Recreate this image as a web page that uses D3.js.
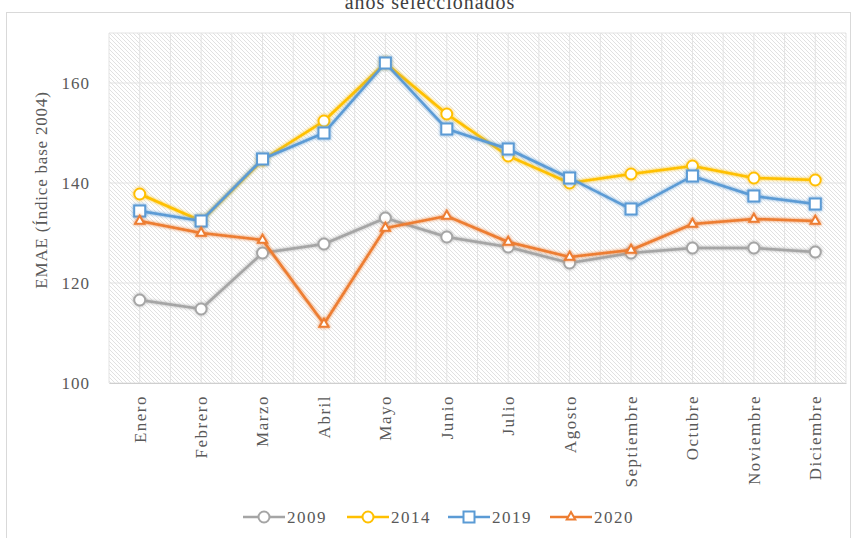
<!DOCTYPE html>
<html>
<head>
<meta charset="utf-8">
<script src="https://cdn.jsdelivr.net/npm/d3@7"></script>
<style>
  body { margin: 0; background: #fff; }
  text { font-family: "Liberation Serif", "DejaVu Serif", serif; fill: #595959; }
</style>
</head>
<body>
<svg id="chart" width="858" height="538"></svg>
<script>
// months (categories)
var months = ["Enero", "Febrero", "Marzo", "Abril", "Mayo", "Junio", "Julio",
  "Agosto", "Septiembre", "Octubre", "Noviembre", "Diciembre"];

// EMAE values
var v2009 = [116.6, 114.8, 126.0, 127.8, 133.0, 129.2, 127.2, 124.0, 126.0, 127.0, 127.0, 126.2];
var v2014 = [137.8, 132.4, 144.6, 152.4, 164.0, 153.8, 145.4, 140.0, 141.8, 143.4, 141.0, 140.6];
var v2019 = [134.4, 132.4, 144.8, 150.0, 164.0, 150.8, 146.8, 141.0, 134.8, 141.4, 137.4, 135.8];
var v2020 = [132.4, 130.0, 128.6, 111.8, 131.0, 133.4, 128.2, 125.2, 126.6, 131.8, 132.8, 132.4];

var yTicks = [100, 120, 140, 160];

var series = [
  {name: "2009", values: v2009, color: "#A5A5A5", marker: "circle"},
  {name: "2014", values: v2014, color: "#FFC000", marker: "circle"},
  {name: "2019", values: v2019, color: "#5B9BD5", marker: "square"},
  {name: "2020", values: v2020, color: "#ED7D31", marker: "triangle"}
];

var margin = {top: 33, right: 12, bottom: 155, left: 109},
    width = 858 - margin.left - margin.right,
    height = 538 - margin.top - margin.bottom;

var svg = d3.select("#chart");

// outer chart frame
svg.append("rect")
    .attr("x", 6.5).attr("y", 12.5)
    .attr("width", 844).attr("height", 540)
    .attr("fill", "#fff")
    .attr("stroke", "#d9d9d9");

// title (cut off at the top in the original too)
svg.append("text")
    .attr("x", 430).attr("y", 9)
    .attr("text-anchor", "middle")
    .style("font-size", "20px")
    .style("letter-spacing", "1px")
    .style("fill", "#404040")
    .text("años seleccionados");

// hatch pattern for the plot area
var defs = svg.append("defs");
var pat = defs.append("pattern")
    .attr("id", "hatch")
    .attr("patternUnits", "userSpaceOnUse")
    .attr("width", 4).attr("height", 4);
pat.append("rect").attr("width", 4).attr("height", 4).attr("fill", "#fff");
pat.append("path")
    .attr("d", "M-1,-1 L5,5 M-1,3 L1,5 M3,-1 L5,1")
    .attr("stroke", "#dedede")
    .attr("stroke-width", 0.9);

var glow = defs.append("filter").attr("id", "glow")
    .attr("x", "-20%").attr("y", "-20%").attr("width", "140%").attr("height", "140%");
glow.append("feGaussianBlur").attr("in", "SourceGraphic").attr("stdDeviation", 1.6).attr("result", "b");
var fm = glow.append("feMerge");
fm.append("feMergeNode").attr("in", "b");
fm.append("feMergeNode").attr("in", "SourceGraphic");

var g = svg.append("g")
    .attr("transform", "translate(" + margin.left + "," + margin.top + ")");

var x = d3.scaleBand().domain(months).range([0, width]);
var xc = function(m) { return x(m) + x.bandwidth() / 2; };
var y = d3.scaleLinear().domain([100, 170]).range([height, 0]);

g.append("rect")
    .attr("width", width).attr("height", height)
    .attr("fill", "url(#hatch)");

// vertical grid at band edges and centres
var vLines = [];
months.forEach(function(m) { vLines.push(x(m)); vLines.push(xc(m)); });
vLines.push(width);
g.append("g").selectAll("line")
    .data(vLines)
    .join("line")
    .attr("x1", function(d) { return d; }).attr("x2", function(d) { return d; })
    .attr("y1", 0).attr("y2", height)
    .attr("stroke", "#e3e3e3").attr("stroke-width", 1);

// horizontal grid
g.append("g").selectAll("line")
    .data(yTicks.concat([170]))
    .join("line")
    .attr("x1", 0).attr("x2", width)
    .attr("y1", function(d) { return y(d); }).attr("y2", function(d) { return y(d); })
    .attr("stroke", "#e3e3e3").attr("stroke-width", 1);

// Y axis
var yAxis = g.append("g")
    .call(d3.axisLeft(y).tickValues(yTicks).tickSize(0).tickPadding(19));
yAxis.select(".domain").remove();
yAxis.selectAll("text").style("font-size", "17px").style("fill", "#595959")
    .style("letter-spacing", "1px")
    .style("font-family", "Liberation Serif, serif");

// X axis
var xAxis = g.append("g")
    .attr("transform", "translate(0," + height + ")")
    .call(d3.axisBottom(x).tickSize(0).tickPadding(0));
xAxis.select(".domain").attr("stroke", "#cfcfcf");
xAxis.selectAll("text")
    .attr("transform", "rotate(-90)")
    .attr("x", -12).attr("y", 0).attr("dy", "0.35em")
    .style("text-anchor", "end")
    .style("font-size", "17px").style("fill", "#595959")
    .style("letter-spacing", "1.5px")
    .style("font-family", "Liberation Serif, serif");

// Y title
svg.append("text")
    .attr("transform", "translate(47,190) rotate(-90)")
    .attr("text-anchor", "middle")
    .style("font-size", "17px")
    .style("letter-spacing", "0.8px")
    .text("EMAE (Índice base 2004)");

var line = d3.line()
    .x(function(d, i) { return xc(months[i]); })
    .y(function(d) { return y(d); });

function drawMarker(sel, type, color, size) {
  if (type === "circle") {
    sel.append("circle").attr("r", size / 2)
      .attr("fill", "#fff").attr("stroke", color).attr("stroke-width", 2);
  } else if (type === "square") {
    sel.append("rect").attr("x", -size / 2).attr("y", -size / 2)
      .attr("width", size).attr("height", size)
      .attr("fill", "#fff").attr("stroke", color).attr("stroke-width", 2);
  } else {
    sel.append("path").attr("d", d3.symbol(d3.symbolTriangle, size * 4.5)())
      .attr("fill", "#fff").attr("stroke", color).attr("stroke-width", 2);
  }
}

series.forEach(function(s) {
  var sg = g.append("g").attr("filter", "url(#glow)");
  sg.append("path")
    .datum(s.values)
    .attr("fill", "none")
    .attr("stroke", s.color)
    .attr("stroke-width", 2.5)
    .attr("d", line);
  sg.selectAll("g.pt")
    .data(s.values)
    .join("g")
    .attr("class", "pt")
    .attr("transform", function(d, i) { return "translate(" + xc(months[i]) + "," + y(d) + ")"; })
    .each(function() { drawMarker(d3.select(this), s.marker, s.color, s.marker === "triangle" ? 8 : 11); });
});

// legend
var legX = [243, 347, 448, 550];
var leg = svg.append("g").attr("transform", "translate(0,517)");
series.forEach(function(s, i) {
  var lg = leg.append("g").attr("transform", "translate(" + legX[i] + ",0)");
  lg.append("line").attr("x1", 0).attr("x2", 42).attr("y1", 0).attr("y2", 0)
    .attr("stroke", s.color).attr("stroke-width", 2.5);
  var mk = lg.append("g").attr("transform", "translate(21,0)");
  drawMarker(mk, s.marker, s.color, s.marker === "triangle" ? 7 : 11);
  lg.append("text").attr("x", 44).attr("y", 0).attr("dy", "0.35em")
    .style("font-size", "17px").style("letter-spacing", "1.5px").text(s.name);
});
</script>
</body>
</html>
